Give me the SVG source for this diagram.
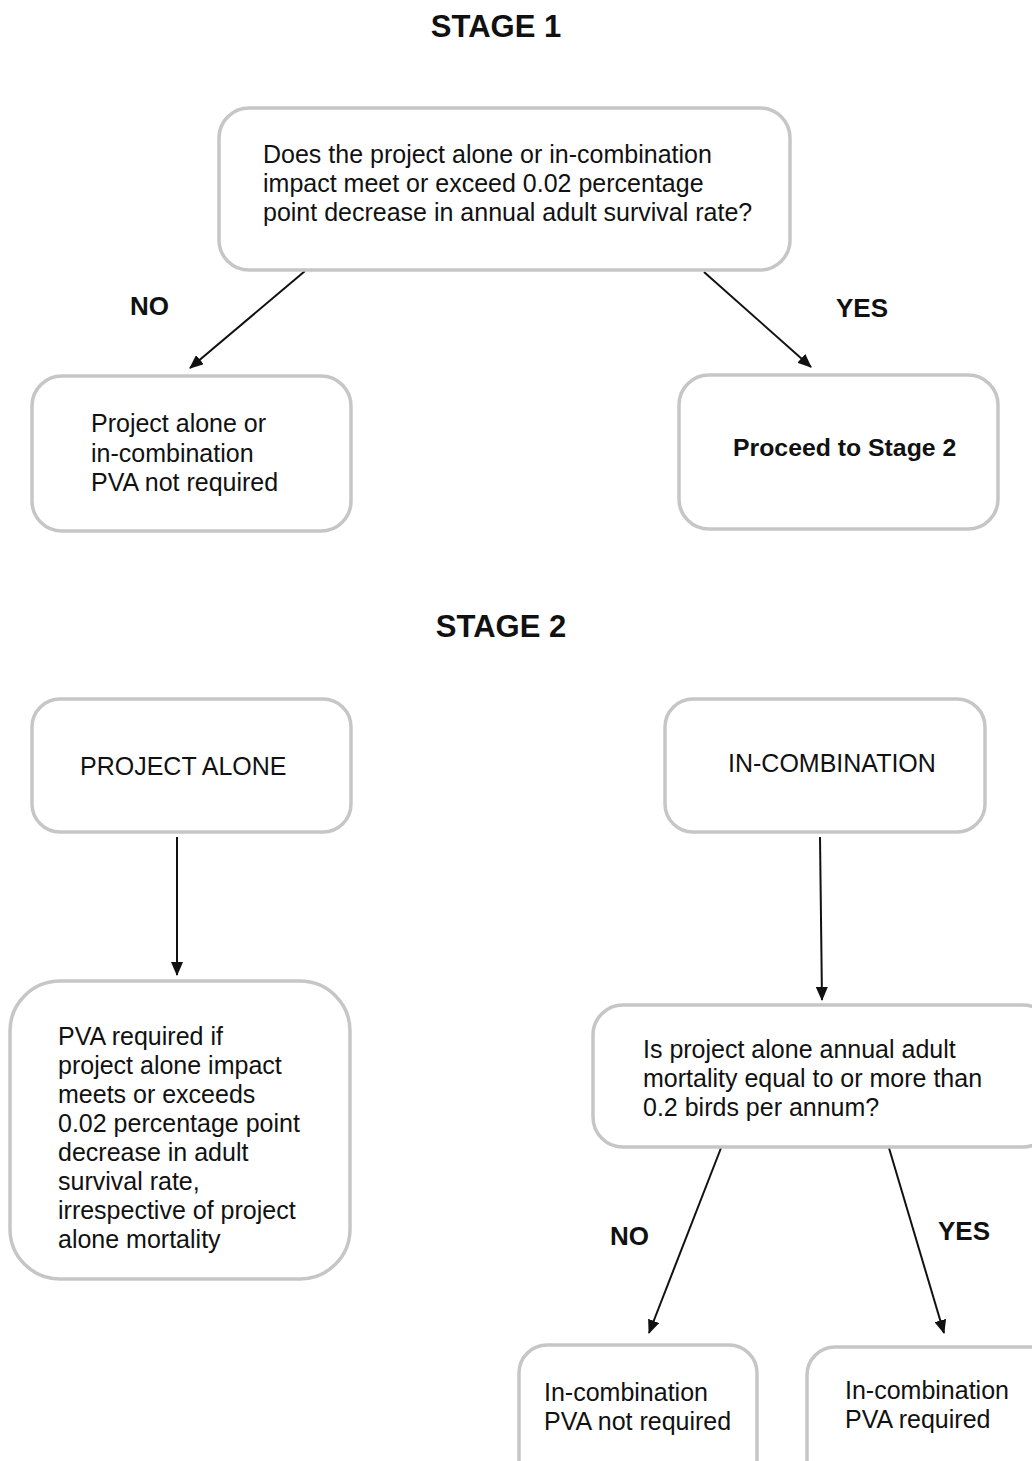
<svg xmlns="http://www.w3.org/2000/svg" width="1032" height="1461" viewBox="0 0 1032 1461">
<style>
.box{fill:#fff;stroke:#c6c6c6;stroke-width:3.5}
.t{font-family:"Liberation Sans",Arial,sans-serif;font-size:25px;fill:#111}
.b{font-family:"Liberation Sans",Arial,sans-serif;font-weight:bold;fill:#111}
.c{stroke:#111;stroke-width:2;fill:none;marker-end:url(#ah)}
</style>
<defs>
<marker id="ah" markerWidth="14" markerHeight="12" refX="13" refY="6" orient="auto" markerUnits="userSpaceOnUse" viewBox="0 0 14 12">
<path d="M0,0 L14,6 L0,12 Z" fill="#111"/>
</marker>
</defs>
<rect width="1032" height="1461" fill="#fff"/>
<text class="b" x="496" y="37" font-size="31" text-anchor="middle">STAGE 1</text>
<text class="b" x="501" y="637" font-size="31" text-anchor="middle">STAGE 2</text>
<g id="connectors">
<line class="c" x1="305" y1="271" x2="190" y2="368"/>
<line class="c" x1="704" y1="272" x2="811" y2="367"/>
<line class="c" x1="177" y1="837" x2="177" y2="975"/>
<line class="c" x1="820" y1="837" x2="822" y2="1000"/>
<line class="c" x1="721" y1="1148" x2="649" y2="1333"/>
<line class="c" x1="889" y1="1148" x2="944" y2="1333"/>
<text class="b" x="130" y="315" font-size="26">NO</text>
<text class="b" x="836" y="317" font-size="26">YES</text>
<text class="b" x="610" y="1245" font-size="26">NO</text>
<text class="b" x="938" y="1240" font-size="26">YES</text>
</g>
<g id="q1">
<rect class="box" x="219" y="108" width="571" height="162" rx="30"/>
<text class="t" x="263" y="163">Does the project alone or in-combination</text>
<text class="t" x="263" y="192">impact meet or exceed 0.02 percentage</text>
<text class="t" x="263" y="221">point decrease in annual adult survival rate?</text>
</g>
<g id="no1">
<rect class="box" x="32" y="376" width="319" height="155" rx="30"/>
<text class="t" x="91" y="432">Project alone or</text>
<text class="t" x="91" y="462">in-combination</text>
<text class="t" x="91" y="491">PVA not required</text>
</g>
<g id="yes1">
<rect class="box" x="679" y="375" width="319" height="154" rx="30"/>
<text class="b" x="733" y="456" font-size="24.8">Proceed to Stage 2</text>
</g>
<g id="alone">
<rect class="box" x="32" y="699" width="319" height="133" rx="28"/>
<text class="t" x="80" y="775">PROJECT ALONE</text>
</g>
<g id="incomb">
<rect class="box" x="665" y="699" width="320" height="133" rx="28"/>
<text class="t" x="728" y="772">IN-COMBINATION</text>
</g>
<g id="pva">
<rect class="box" x="10" y="981" width="340" height="298" rx="50"/>
<text class="t" x="58" y="1045">PVA required if</text>
<text class="t" x="58" y="1074">project alone impact</text>
<text class="t" x="58" y="1103">meets or exceeds</text>
<text class="t" x="58" y="1132">0.02 percentage point</text>
<text class="t" x="58" y="1161">decrease in adult</text>
<text class="t" x="58" y="1190">survival rate,</text>
<text class="t" x="58" y="1219">irrespective of project</text>
<text class="t" x="58" y="1248">alone mortality</text>
</g>
<g id="q2">
<rect class="box" x="593" y="1005" width="460" height="142" rx="30"/>
<text class="t" x="643" y="1058">Is project alone annual adult</text>
<text class="t" x="643" y="1087">mortality equal to or more than</text>
<text class="t" x="643" y="1116">0.2 birds per annum?</text>
</g>
<g id="no2">
<rect class="box" x="519" y="1345" width="238" height="150" rx="28"/>
<text class="t" x="544" y="1401">In-combination</text>
<text class="t" x="544" y="1430">PVA not required</text>
</g>
<g id="yes2">
<rect class="box" x="807" y="1347" width="260" height="150" rx="28"/>
<text class="t" x="845" y="1399">In-combination</text>
<text class="t" x="845" y="1428">PVA required</text>
</g>
</svg>
